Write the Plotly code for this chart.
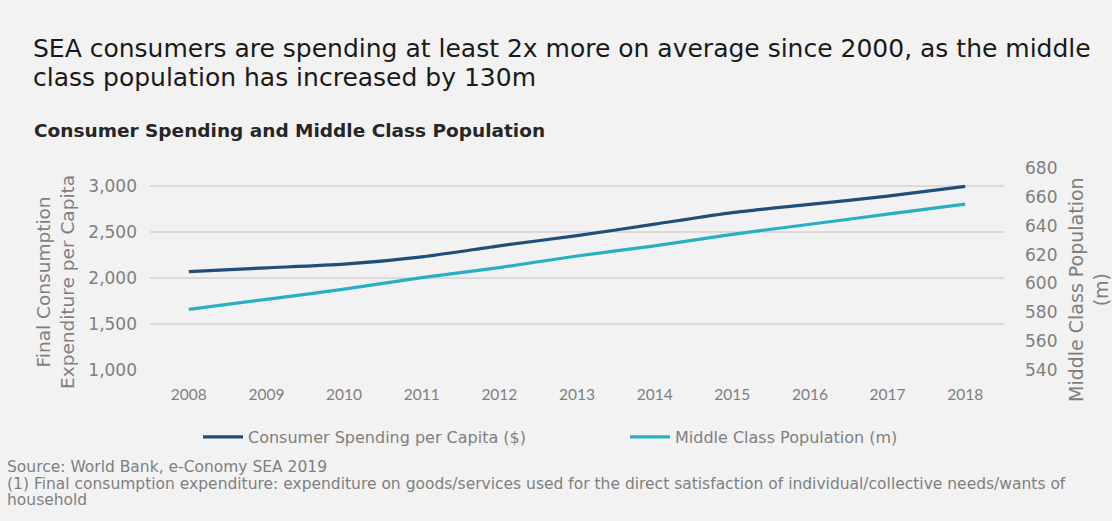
import plotly.graph_objects as go

W, H = 1112, 521

years = ["2008", "2009", "2010", "2011", "2012", "2013", "2014", "2015", "2016", "2017", "2018"]
spending = [2070, 2110, 2150, 2230, 2350, 2460, 2585, 2710, 2800, 2890, 2995]
middle_class = [582, 589, 596, 604, 611, 619, 626, 634, 641, 648, 655]

left_ticks = [1000, 1500, 2000, 2500, 3000]
right_ticks = [540, 560, 580, 600, 620, 640, 660, 680]

DARK = "#1f4e78"
CYAN = "#27b0c2"
GRAY = "#7f7f7f"
FONT = "DejaVu Sans"

# plot area in pixels
PL, PR, PT, PB = 150, 1004, 168, 370


def px(x):
    return x / W


def py(y):
    return 1 - y / H


fig = go.Figure()
fig.add_trace(go.Scatter(x=years, y=spending, name="Consumer Spending per Capita ($)",
                         mode="lines", line=dict(color=DARK, width=3.2, shape="spline", smoothing=0.6),
                         yaxis="y"))
fig.add_trace(go.Scatter(x=years, y=middle_class, name="Middle Class Population (m)",
                         mode="lines", line=dict(color=CYAN, width=3.2, shape="spline", smoothing=0.6),
                         yaxis="y2"))

fig.update_layout(
    width=W, height=H,
    margin=dict(l=0, r=0, t=0, b=0),
    paper_bgcolor="#f2f2f2", plot_bgcolor="#f2f2f2",
    font=dict(family=FONT, color=GRAY, size=15),
    showlegend=True,
    legend=dict(orientation="h", x=px(198), y=py(437), xanchor="left", yanchor="middle",
                font=dict(size=16, color=GRAY), bgcolor="rgba(0,0,0,0)", itemwidth=40,
                tracegroupgap=0, entrywidthmode="pixels", entrywidth=372),
    xaxis=dict(domain=[px(PL), px(PR)], type="category", range=[-0.5, 10.5],
               showgrid=False, zeroline=False, showline=False, ticks="",
               tickfont=dict(family="Lato", size=15.5, color=GRAY), automargin=False,
               ticklabelstandoff=13),
    yaxis=dict(domain=[py(PB), py(PT)], range=[1000, 1000 + (PB - PT) / 184 * 2000],
               tickvals=left_ticks, tickformat=",", showgrid=True, gridcolor="#dadada", gridwidth=1.5,
               zeroline=False, showline=False, tickfont=dict(size=17, color=GRAY), automargin=False,
               ticklabelstandoff=12),
    yaxis2=dict(overlaying="y", side="right", range=[540, 540 + (PB - PT) / 202 * 140],
                tickvals=right_ticks, showgrid=False, zeroline=False, showline=False,
                tickfont=dict(size=17, color=GRAY), automargin=False, ticklabelstandoff=20),
)

annotations = [
    dict(text="SEA consumers are spending at least 2x more on average since 2000, as the middle",
         x=px(31), y=py(48), font=dict(size=25, color="#1a1a1a")),
    dict(text="class population has increased by 130m",
         x=px(31), y=py(78), font=dict(size=25, color="#1a1a1a")),
    dict(text="<b>Consumer Spending and Middle Class Population</b>",
         x=px(32), y=py(130), font=dict(size=18.5, color="#262626")),
    dict(text="Source: World Bank, e-Conomy SEA 2019",
         x=px(5), y=py(467), font=dict(size=15.5, color=GRAY)),
    dict(text="(1) Final consumption expenditure: expenditure on goods/services used for the direct satisfaction of individual/collective needs/wants of",
         x=px(5), y=py(484), font=dict(size=15.5, color=GRAY)),
    dict(text="household",
         x=px(5), y=py(500), font=dict(size=15.5, color=GRAY)),
]
for a in annotations:
    fig.add_annotation(xref="paper", yref="paper", xanchor="left", yanchor="middle",
                       showarrow=False, **a)

# axis titles
fig.add_annotation(text="Final Consumption<br>Expenditure per Capita", xref="paper", yref="paper",
                   x=px(55), y=py(282), textangle=-90, showarrow=False,
                   font=dict(size=18.5, color=GRAY), xanchor="center", yanchor="middle")
fig.add_annotation(text="Middle Class Population<br>(m)", xref="paper", yref="paper",
                   x=px(1088), y=py(290), textangle=-90, showarrow=False,
                   font=dict(size=19, color=GRAY), xanchor="center", yanchor="middle")

fig.write_html("out.html")
